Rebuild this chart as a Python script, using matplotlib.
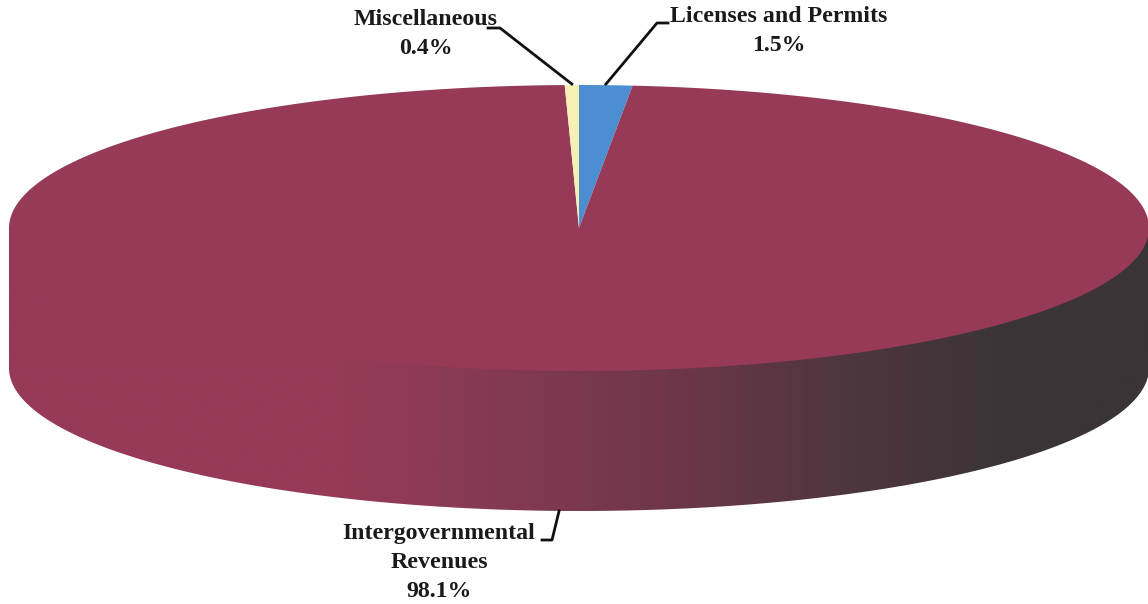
import numpy as np
import matplotlib.pyplot as plt
from matplotlib.patches import Polygon
from matplotlib.colors import LinearSegmentedColormap

# revenue shares (percent)
categories = ["Licenses and Permits", "Intergovernmental\nRevenues", "Miscellaneous"]
shares = [1.5, 98.1, 0.4]
colors = ["#4b8fd2", "#963a58", "#f6f0b4"]

# pie geometry in pixel units (y grows downward)
cx, cy = 579, 228
a, b = 570, 143
depth = 140


def rim(t0, t1, n=200, drop=0):
    # points on the ellipse rim, angles in degrees clockwise from 12 o'clock
    t = np.radians(np.linspace(t0, t1, n))
    return np.column_stack([cx + a * np.sin(t), cy - b * np.cos(t) + drop])


fig = plt.figure(figsize=(11.48, 6.04), dpi=100)
ax = fig.add_axes([0, 0, 1, 1])
ax.set_xlim(0, 1148)
ax.set_ylim(604, 0)
ax.axis("off")

angles = np.concatenate([[0], np.cumsum(shares) / sum(shares) * 360])

# front side wall (only the big slice covers the front half);
# its top edge tucks a few pixels under the top face to avoid a seam
side = np.vstack([rim(90, 270, drop=-4), rim(270, 90, drop=depth)])
wall = Polygon(side, closed=True, facecolor="none", edgecolor="none")
ax.add_patch(wall)
shade = LinearSegmentedColormap.from_list(
    "wall", [(0, "#963a58"), (0.29, "#963a58"), (0.4, "#883a55"),
             (0.58, "#6e3749"), (0.75, "#4c363d"), (0.87, "#3c3437"), (1, "#3a3436")])
grad = np.linspace(0, 1, 400).reshape(1, -1)
img = ax.imshow(grad, cmap=shade, aspect="auto", interpolation="bilinear",
                extent=(cx - a, cx + a, cy + b + depth + 2, cy - 6), zorder=1)
img.set_clip_path(wall)

# top face
for i, col in enumerate(colors):
    pts = np.vstack([[cx, cy], rim(angles[i], angles[i + 1], n=400)])
    ax.add_patch(Polygon(pts, closed=True, facecolor=col, edgecolor="none",
                         zorder=2))

# labels with leader lines
font = dict(family="Liberation Serif", weight="bold", fontsize=17.2,
            ha="center", va="top", linespacing=1.5, color="#1a1a1a")


def anchor(t, drop=0):
    r = np.radians(t)
    return cx + a * np.sin(r), cy - b * np.cos(r) + drop


mid = (angles[:-1] + angles[1:]) / 2
lic = anchor(mid[0])
misc = anchor(mid[2])
ig = anchor(182, drop=depth)

ax.text(779, 6, f"{categories[0]}\n{shares[0]}%", **font)
ax.plot([668, 657, lic[0]], [23, 23, lic[1] - 1], color="#111", lw=2, zorder=3)

ax.text(426, 9, f"{categories[2]}\n{shares[2]}%", **font)
ax.plot([488, 500, misc[0]], [28, 28, misc[1] - 1], color="#111", lw=2, zorder=3)

ax.text(439, 523, f"{categories[1]}\n{shares[1]}%", **font)
ax.plot([542, 552, ig[0]], [540, 540, ig[1]], color="#111", lw=2, zorder=3)

fig.savefig("out.png", dpi=100, facecolor="white")
